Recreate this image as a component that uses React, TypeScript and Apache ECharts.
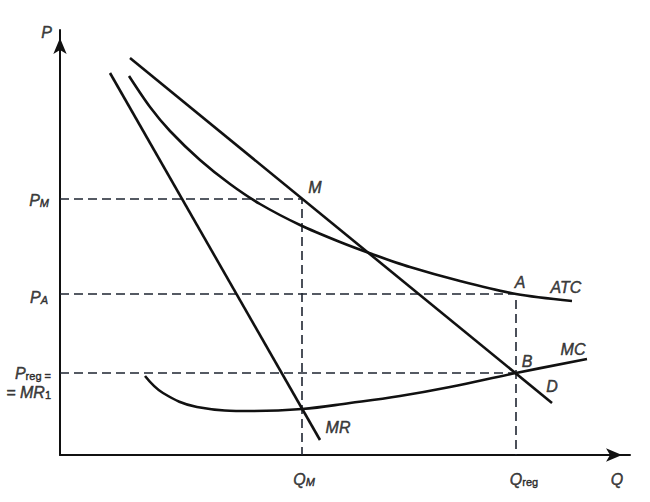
import React, { useEffect, useRef } from "react";
import * as echarts from "echarts";

// Data (x = quantity units, y = price units)
const demandCurve = [[70, 397], [492, 52]];
const mrCurve = [[50, 382], [260, 15]];
const atcCurve = [[69, 379], [90, 348], [110, 324], [140, 295], [170, 271], [200, 251], [240, 230], [280, 213], [312, 201], [350, 188], [400, 174], [456, 161], [512, 154]];
const mcCurve = [[85, 79], [103, 62], [137, 48], [193, 44], [242, 46], [290, 52], [340, 59], [390, 68], [456, 82], [527, 96]];
const qM = 242;
const qReg = 456;
const pM = 256;
const pA = 161;
const pReg = 82;
const xMax = 570;
const yMax = 425;

const labelTexts = {
  P: "{i|P}",
  PM: "{i|P}{si|M}",
  PA: "{i|P}{si|A}",
  Preg: "{i|P}{s|reg =}\n{i|= MR}{s|1}",
  QM: "{i|Q}{si|M}",
  Qreg: "{i|Q}{s|reg}",
  Q: "{i|Q}",
  M: "{i|M}",
  A: "{i|A}",
  ATC: "{i|ATC}",
  MC: "{i|MC}",
  B: "{i|B}",
  D: "{i|D}",
  MR: "{i|MR}",
};

export default function App() {
  const ref = useRef<HTMLDivElement>(null);
  useEffect(() => {
    if (!ref.current) return;
    const chart = echarts.init(ref.current, null, { renderer: "svg" });
    const font = "Liberation Sans, Arial, sans-serif";
    const ink = "#111";
    const stroke = { textBorderColor: ink, textBorderWidth: 0.5 };
    const rich = {
      i: { fontStyle: "italic", fontSize: 16, fontFamily: font, color: ink, lineHeight: 19, verticalAlign: "bottom", ...stroke },
      si: { fontStyle: "italic", fontSize: 11, fontFamily: font, color: ink, lineHeight: 13, verticalAlign: "bottom", ...stroke },
      s: { fontSize: 11, fontFamily: font, color: ink, lineHeight: 13, verticalAlign: "bottom", ...stroke },
    };
    const last = (a: number[][]) => a[a.length - 1];
    const labelItems: any[] = [
      { value: [0, yMax], text: labelTexts.P, pos: "left", dist: 8, off: [0, 1] },
      { value: [0, pM], text: labelTexts.PM, pos: "left", dist: 11, off: [0, 0] },
      { value: [0, pA], text: labelTexts.PA, pos: "left", dist: 12, off: [0, 2] },
      { value: [0, pReg], text: labelTexts.Preg, pos: "left", dist: 9, off: [0, 8], align: "right" },
      { value: [qM, 0], text: labelTexts.QM, pos: "bottom", dist: 13, off: [2, 0] },
      { value: [qReg, 0], text: labelTexts.Qreg, pos: "bottom", dist: 13, off: [8, 0] },
      { value: [xMax, 0], text: labelTexts.Q, pos: "bottom", dist: 13, off: [-13, 0] },
      { value: [qM, pM], text: labelTexts.M, pos: "top", dist: 4, off: [13, 0] },
      { value: [qReg, pA], text: labelTexts.A, pos: "top", dist: 4, off: [4, 0] },
      { value: last(atcCurve), text: labelTexts.ATC, pos: "top", dist: 6, off: [-6, 0] },
      { value: last(mcCurve), text: labelTexts.MC, pos: "top", dist: 2, off: [-14, 0] },
      { value: [qReg, pReg], text: labelTexts.B, pos: "top", dist: 4, off: [11, 0] },
      { value: last(demandCurve), text: labelTexts.D, pos: "top", dist: 9, off: [0, 0] },
      { value: last(mrCurve), text: labelTexts.MR, pos: "top", dist: 5, off: [18, 0] },
    ].map((d) => ({
      value: d.value,
      label: {
        show: true,
        formatter: d.text,
        position: d.pos,
        distance: d.dist,
        offset: d.off,
        align: d.align,
        color: ink,
        rich,
      },
    }));

    const solid = { color: "#111", width: 2.6 };
    const dashed = { color: "#1e2430", width: 1.6, type: [9, 5] as any };

    chart.setOption({
      animation: false,
      backgroundColor: "#ffffff",
      grid: { left: 60, top: 30, right: 20, bottom: 47 },
      xAxis: {
        type: "value",
        min: 0,
        max: xMax,
        axisLine: { show: true, lineStyle: { color: "#111", width: 2 }, symbol: ["none", "arrow"], symbolSize: [10, 16], symbolOffset: [0, -8] },
        axisTick: { show: false },
        axisLabel: { show: false },
        splitLine: { show: false },
      },
      yAxis: {
        type: "value",
        min: 0,
        max: yMax,
        axisLine: { show: true, lineStyle: { color: "#111", width: 2 }, symbol: ["none", "arrow"], symbolSize: [10, 16], symbolOffset: [0, -8] },
        axisTick: { show: false },
        axisLabel: { show: false },
        splitLine: { show: false },
      },
      series: [
        { type: "line", data: [[0, pM], [qM, pM], [qM, 0]], showSymbol: false, lineStyle: dashed, z: 1 },
        { type: "line", data: [[0, pA], [qReg, pA], [qReg, 0]], showSymbol: false, lineStyle: dashed, z: 1 },
        { type: "line", data: [[0, pReg], [qReg, pReg]], showSymbol: false, lineStyle: dashed, z: 1 },
        { type: "line", name: "D", data: demandCurve, showSymbol: false, lineStyle: solid, z: 3 },
        { type: "line", name: "MR", data: mrCurve, showSymbol: false, lineStyle: solid, z: 3 },
        { type: "line", name: "ATC", data: atcCurve, smooth: 0.3, showSymbol: false, lineStyle: solid, z: 3 },
        { type: "line", name: "MC", data: mcCurve, smooth: 0.4, showSymbol: false, lineStyle: solid, z: 3 },
        { type: "scatter", data: labelItems, symbolSize: 0, clip: false, silent: true, z: 5 },
      ],
    });
    return () => chart.dispose();
  }, []);
  return <div ref={ref} style={{ position: "fixed", left: 0, top: 0, width: 650, height: 502 }} />;
}
